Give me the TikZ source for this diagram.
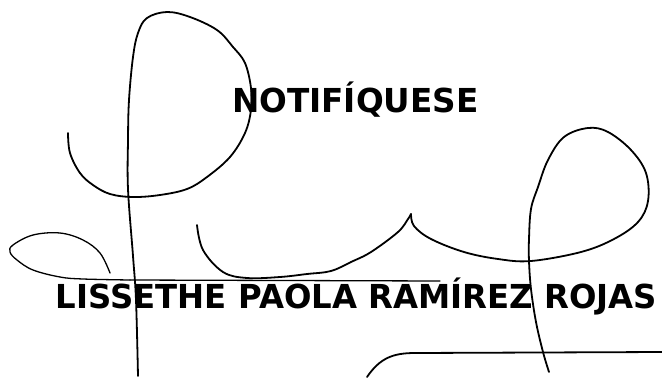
\documentclass[tikz,border=0pt]{standalone}
\usepackage{fontspec}
\setmainfont{DejaVu Sans}
\begin{document}
\begin{tikzpicture}[x=1pt,y=-1pt,
  sig/.style={line width=1.8pt,line cap=round,line join=round,black},
  sigthin/.style={line width=1.3pt,line cap=round,line join=round,black},
  lbl/.style={inner sep=0pt,outer sep=0pt,anchor=base west,font=\fontsize{33}{33}\selectfont\bfseries}]
\useasboundingbox (0,0) rectangle (662,378);
% texts
\node[lbl] (notif) at (232,112) {\scalebox{0.99}[1]{NOTIFÍQUESE}};
\node[lbl] (name) at (56,308) {\scalebox{0.98}[1]{LISSETHE PAOLA RAMÍREZ ROJAS}};
% stroke A: hook, loop, D-shape and long vertical
\draw[sig] plot[smooth,tension=0.6] coordinates {(68,133) (70,153) (80,173) (93,185) (110,194) (133,197) (160,195) (187,189) (207,177) (230,157) (245,133) (251,110) (251,88) (245,63) (233,47) (217,30) (190,17) (167,12) (147,18) (138,33) (133,57) (129,100) (128,140) (128,189) (133,256) (136,300) (138,376)};
% stroke B: left loop and line above the name
\draw[sigthin] plot[smooth,tension=0.6] coordinates {(110,273) (100,253) (83,240) (60,233) (33,235) (13,245) (10,252) (17,260) (33,270) (60,277) (83,279) (130,280)};
\draw[sigthin] (130,280) -- (440,281);
% stroke C: right arch, descender and cusp
\draw[sig] plot[smooth,tension=0.6] coordinates {(549,372) (543,352) (536,322) (531,289) (529,261) (529,239) (531,209) (538,187) (548,160) (564,137) (588,128) (608,132) (631,150) (646,173) (648,201) (638,222) (614,239) (581,252) (531,261) (498,259) (464,252) (431,239) (414,226) (411,214)};
\draw[sig] plot[smooth,tension=0.6] coordinates {(411,214) (408,219) (398,232) (371,252) (351,262) (331,271) (307,274) (280,277) (247,278) (223,272) (203,250) (197,225)};
% stroke D: bottom right line
\draw[sig] (367,377) .. controls (380,358) and (393,353) .. (415,353) -- (662,352);
\end{tikzpicture}
\end{document}
